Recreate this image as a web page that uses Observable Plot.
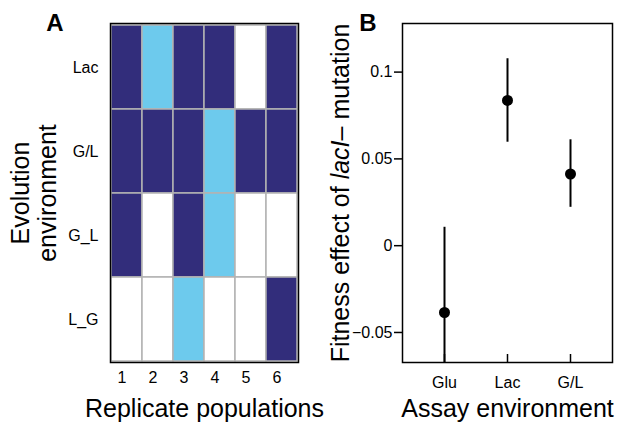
<!DOCTYPE html>
<html><head><meta charset="utf-8">
<script src="https://cdn.jsdelivr.net/npm/d3@7"></script>
<script src="https://cdn.jsdelivr.net/npm/@observablehq/plot@0.6"></script>
<style>
body{margin:0;background:#fff;}
#wrap{position:relative;width:617px;height:424px;font-family:"Liberation Sans",Arial,Helvetica,sans-serif;}
#wrap svg{position:absolute;left:0;top:0;}
</style></head><body><div id="wrap"></div>
<script>
// ---- Panel A data ----
const replicateCols = ["1","2","3","4","5","6"];
const evolutionEnvs = ["Lac","G/L","G_L","L_G"];
const rowLac = ["dark","light","dark","dark","white","dark"];
const rowGslashL = ["dark","dark","dark","light","dark","dark"];
const rowGunderL = ["dark","white","dark","light","white","white"];
const rowLunderG = ["white","white","light","white","white","dark"];
const stateNames = ["dark","light","white"];
const stateColors = ["#322d7b","#6dcaed","#ffffff"];
const labelAx = "Replicate populations";
const labelAy = "Evolution\nenvironment";

// ---- Panel B data ----
const assayEnvs = ["Glu","Lac","G/L"];
const fitnessMean = [-0.0385, 0.0837, 0.0413];
const fitnessLow = [-0.0875, 0.0596, 0.0221];
const fitnessHigh = [0.0106, 0.1077, 0.0610];
const yDomainB = [-0.0673, 0.128];
const yTicksB = [-0.05, 0, 0.05, 0.1];
const yTickLabelsB = ["\u22120.05","0","0.05","0.1"];
const labelBx = "Assay environment";
const labelBParts = [["Fitness effect of ","normal"],["lacI","italic"],["\u2013 mutation","normal"]];

const W = 617, H = 424;
const font = "'Liberation Sans', Arial, Helvetica, sans-serif";

const rows = [rowLac, rowGslashL, rowGunderL, rowLunderG];
const cells = [];
rows.forEach((r, i) => r.forEach((s, j) => cells.push({env: evolutionEnvs[i], col: replicateCols[j], state: s})));

const panelA = Plot.plot({
  width: W, height: H,
  marginLeft: 110, marginRight: 319, marginTop: 23, marginBottom: 62,
  style: {background: "transparent", fontFamily: font, overflow: "visible", color: "black"},
  x: {type: "band", domain: replicateCols, padding: 0},
  y: {type: "band", domain: evolutionEnvs, padding: 0},
  color: {type: "ordinal", domain: stateNames, range: stateColors},
  marks: [
    Plot.cell(cells, {x: "col", y: "env", fill: "state", stroke: "#b3b3b3", strokeWidth: 1.5}),
    Plot.frame({stroke: "black", strokeWidth: 1.5}),
    Plot.axisX({tickSize: 0, tickPadding: 9, fontSize: 16, dx: -5, label: null}),
    Plot.axisY({tickSize: 0, tickPadding: 12, fontSize: 16, label: null}),
    Plot.text([labelAx], {frameAnchor: "bottom", dy: 46, fontSize: 25, lineAnchor: "middle", textAnchor: "middle"}),
    Plot.text([labelAy], {frameAnchor: "left", rotate: -90, dx: -77, fontSize: 25, lineHeight: 1.1, lineAnchor: "middle", textAnchor: "middle"}),
    Plot.text(["A"], {frameAnchor: "top-left", dx: -55.5, dy: 7, fontSize: 24, fontWeight: "bold", lineAnchor: "bottom", textAnchor: "middle"})
  ]
});

const fit = assayEnvs.map((e, i) => ({env: e, mean: fitnessMean[i], lo: fitnessLow[i], hi: fitnessHigh[i]}));
const labelBy = labelBParts.map(d => d[0]).join("");

const panelB = Plot.plot({
  width: W, height: H,
  marginLeft: 402, marginRight: 5, marginTop: 23, marginBottom: 62,
  style: {background: "transparent", fontFamily: font, overflow: "visible", color: "black"},
  x: {type: "point", domain: assayEnvs, padding: 0.66},
  y: {domain: yDomainB},
  marks: [
    Plot.ruleX(fit, {x: "env", y1: "lo", y2: "hi", stroke: "black", strokeWidth: 2, clip: true}),
    Plot.dot(fit, {x: "env", y: "mean", r: 5.5, fill: "black"}),
    Plot.frame({stroke: "black", strokeWidth: 1.5}),
    Plot.axisY({ticks: yTicksB, tickFormat: d => yTickLabelsB[yTicksB.indexOf(d)], tickSize: 8, tickPadding: 2, fontSize: 16, strokeWidth: 1.5, label: null}),
    Plot.axisX({tickSize: 8, dy: -8, tickFormat: () => "", strokeWidth: 1.5, label: null}),
    Plot.axisX({tickSize: 0, tickPadding: 14, fontSize: 16, label: null}),
    Plot.text([labelBx], {frameAnchor: "bottom", dy: 46, fontSize: 25, lineAnchor: "middle", textAnchor: "middle"}),
    Plot.text([labelBy], {frameAnchor: "left", rotate: -90, dx: -54, fontSize: 25, lineAnchor: "bottom", textAnchor: "middle"}),
    Plot.text(["B"], {frameAnchor: "top-left", dx: -34.5, dy: 7, fontSize: 24, fontWeight: "bold", lineAnchor: "bottom", textAnchor: "middle"})
  ]
});

// italicise "lacI" in the panel B y label
d3.select(panelB).selectAll("text").filter(function () { return this.textContent === labelBy; }).each(function () {
  const t = d3.select(this);
  t.text(null);
  labelBParts.forEach(([s, st]) => t.append("tspan").attr("font-style", st).text(s));
});

const wrap = document.getElementById("wrap");
wrap.appendChild(panelA);
wrap.appendChild(panelB);
</script></body></html>
